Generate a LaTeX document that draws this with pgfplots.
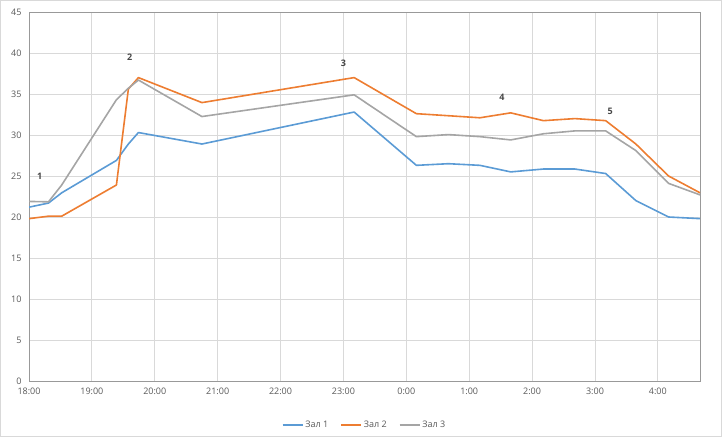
\documentclass[border=0pt]{standalone}
\usepackage{pgfplots}
\pgfplotsset{compat=1.18}
\usepackage{fontspec}
\setmainfont{Open Sans}
\definecolor{c1}{HTML}{5B9BD5}
\definecolor{c2}{HTML}{ED7D31}
\definecolor{c3}{HTML}{A5A5A5}
\definecolor{txt}{HTML}{595959}
\definecolor{grd}{HTML}{D9D9D9}
\begin{document}
\begin{tikzpicture}
\path[use as bounding box] (0pt,0pt) rectangle (724pt,-438pt);
\draw[grd, line width=0.8pt] (0.5pt,-0.5pt) rectangle (721.5pt,-436pt);
\begin{axis}[
  at={(29pt,-381pt)}, anchor=south west,
  scale only axis, width=671pt, height=369pt,
  xmin=0, xmax=10.67, ymin=0, ymax=45,
  xtick={0,1,2,3,4,5,6,7,8,9,10},
  xticklabels={18:00,19:00,20:00,21:00,22:00,23:00,0:00,1:00,2:00,3:00,4:00},
  ytick={0,5,10,15,20,25,30,35,40,45},
  grid=major,
  major grid style={grd, line width=0.8pt},
  axis line style={draw=gray!80, line width=0.8pt},
  major tick length=0pt,
  /pgf/number format/assume math mode=true,
  tick label style={font=\fontsize{9}{10}\selectfont, text=txt},
  xticklabel style={yshift=-3pt},
  yticklabel style={xshift=-4pt},
  legend style={at={(0.5,-36pt)}, anchor=north, draw=none, legend columns=3,
    font=\fontsize{9}{10}\selectfont, text=txt,
    /tikz/every even column/.append style={column sep=10pt}},
  legend image code/.code={\draw[#1, line width=1.6pt] (0pt,0pt) -- (20pt,0pt);},
  every axis plot/.append style={line width=1.6pt, line join=round},
]
\addplot[c1, mark=none] coordinates {
(0,21.2) (0.31,21.7) (0.52,22.95) (1.39,26.9) (1.58,28.9) (1.74,30.3)
(2.75,28.9) (5.17,32.8) (6.16,26.3) (6.67,26.5) (7.17,26.3) (7.66,25.5)
(8.18,25.85) (8.68,25.85) (9.17,25.3) (9.65,22.0) (10.17,20.0) (10.67,19.8)};
\addlegendentry{Зал 1}
\addplot[c2, mark=none] coordinates {
(0,19.8) (0.31,20.1) (0.52,20.1) (1.39,23.9) (1.58,35.6) (1.74,37.0)
(2.75,33.95) (5.17,37.0) (6.16,32.6) (6.67,32.35) (7.17,32.1) (7.66,32.7)
(8.18,31.75) (8.68,32.0) (9.17,31.75) (9.65,28.9) (10.17,25.0) (10.67,22.95)};
\addlegendentry{Зал 2}
\addplot[c3, mark=none] coordinates {
(0,21.9) (0.31,21.85) (0.52,23.9) (1.39,34.3) (1.58,35.7) (1.74,36.7)
(2.75,32.25) (5.17,34.9) (6.16,29.8) (6.67,30.05) (7.17,29.8) (7.66,29.4)
(8.18,30.15) (8.68,30.5) (9.17,30.5) (9.65,28.1) (10.17,24.1) (10.67,22.7)};
\addlegendentry{Зал 3}
\node[font=\bfseries\fontsize{9}{10}\selectfont, text=txt!80!black] at (axis cs:0.17,25.0) {1};
\node[font=\bfseries\fontsize{9}{10}\selectfont, text=txt!80!black] at (axis cs:1.6,39.5) {2};
\node[font=\bfseries\fontsize{9}{10}\selectfont, text=txt!80!black] at (axis cs:5.0,38.8) {3};
\node[font=\bfseries\fontsize{9}{10}\selectfont, text=txt!80!black] at (axis cs:7.52,34.6) {4};
\node[font=\bfseries\fontsize{9}{10}\selectfont, text=txt!80!black] at (axis cs:9.24,32.9) {5};
\end{axis}
\end{tikzpicture}
\end{document}
